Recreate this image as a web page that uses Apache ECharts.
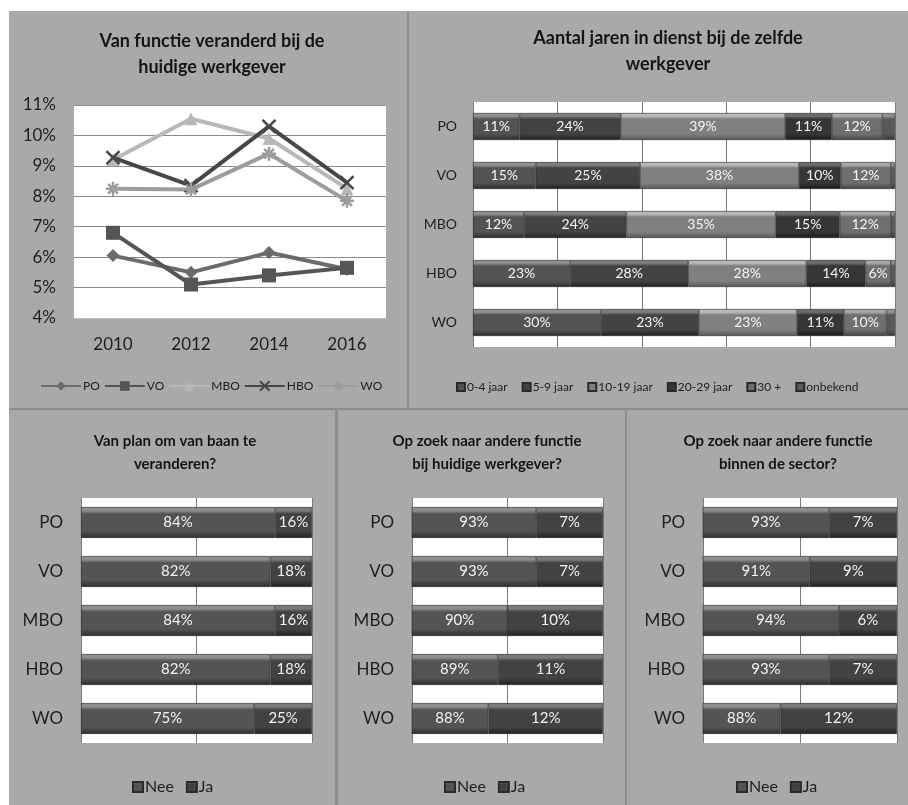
<!DOCTYPE html>
<html><head><meta charset="utf-8">
<script src="https://cdn.jsdelivr.net/npm/echarts@6/dist/echarts.min.js"></script>
<style>html,body{margin:0;padding:0;background:#fff;}#c{position:absolute;left:9px;top:11px;width:899px;height:794px;}</style>
</head><body><div id="c"></div>
<script>
// ---- data ----
const years = ['2010', '2012', '2014', '2016'];
const linePO  = [6.05, 5.5, 6.15, 5.6];
const lineVO  = [6.8, 5.1, 5.4, 5.65];
const lineMBO = [9.2, 10.55, 9.9, 8.25];
const lineHBO = [9.27, 8.35, 10.3, 8.45];
const lineWO  = [8.25, 8.22, 9.4, 7.85];

const sectors = ['PO', 'VO', 'MBO', 'HBO', 'WO'];
const tenureNames = ['0-4 jaar', '5-9 jaar', '10-19 jaar', '20-29 jaar', '30 +', 'onbekend'];
const tenure0_4   = [11, 15, 12, 23, 30];
const tenure5_9   = [24, 25, 24, 28, 23];
const tenure10_19 = [39, 38, 35, 28, 23];
const tenure20_29 = [11, 10, 15, 14, 11];
const tenure30    = [12, 12, 12, 6, 10];
const tenureUnk   = [3, 1, 1, 1, 2];

const planNee = [84, 82, 84, 82, 75];
const planJa  = [16, 18, 16, 18, 25];
const zoekWerkgeverNee = [93, 93, 90, 89, 88];
const zoekWerkgeverJa  = [7, 7, 10, 11, 12];
const zoekSectorNee = [93, 91, 94, 93, 88];
const zoekSectorJa  = [7, 9, 6, 7, 12];

const titles = [
  'Van functie veranderd bij de\nhuidige werkgever',
  'Aantal jaren in dienst bij de zelfde\nwerkgever',
  'Van plan om van baan te\nveranderen?',
  'Op zoek naar andere functie\nbij huidige werkgever?',
  'Op zoek naar andere functie\nbinnen de sector?'
];

// ---- styling ----
const FONT = 'Lato, "Open Sans", sans-serif';
const TXT = '#1e1e1e';
function bevel(base, light, dark) {
  return new echarts.graphic.LinearGradient(0, 0, 0, 1, [
    {offset: 0, color: light}, {offset: 0.12, color: light}, {offset: 0.22, color: base},
    {offset: 0.78, color: base}, {offset: 1, color: dark}]);
}
const tenureColors = [
  ['#535353', '#909090', '#2a2a2a'],
  ['#434343', '#7e7e7e', '#202020'],
  ['#808080', '#b8b8b8', '#575757'],
  ['#363636', '#6c6c6c', '#1a1a1a'],
  ['#6f6f6f', '#a8a8a8', '#444444'],
  ['#5a5a5a', '#929292', '#333333']
];
const neeCol = ['#545454', '#8e8e8e', '#2c2c2c'];
const jaCol  = ['#424242', '#7a7a7a', '#202020'];

const chart = echarts.init(document.getElementById('c'));

const grids = [
  {left: 65, top: 94, width: 312, height: 213},
  {left: 464, top: 91, width: 422, height: 245},
  {left: 72, top: 487, width: 231, height: 245},
  {left: 403, top: 487, width: 191, height: 245},
  {left: 694, top: 487, width: 194, height: 245}
].map(g => Object.assign(g, {show: true, backgroundColor: '#ffffff', borderWidth: 0, containLabel: false}));

const titleDefs = [
  {cx: 198, top: 12, size: 18, lh: 26},
  {cx: 654, top: 9, size: 18, lh: 26},
  {cx: 161, top: 414, size: 15, lh: 23},
  {cx: 473, top: 414, size: 15, lh: 23},
  {cx: 764, top: 414, size: 15, lh: 23}
];

const splitCol = '#7a7a7a';

const xAxes = [
  {gridIndex: 0, type: 'category', data: years, boundaryGap: true,
   axisLine: {show: true, lineStyle: {color: '#bdbdbd'}}, axisTick: {show: false},
   axisLabel: {color: TXT, fontSize: 17, fontFamily: FONT, margin: 18}},
  {gridIndex: 1, type: 'value', min: 0, max: 100, interval: 20,
   axisLabel: {show: false}, axisLine: {show: false}, axisTick: {show: false},
   splitLine: {lineStyle: {color: splitCol}}},
  {gridIndex: 2, type: 'value', min: 0, max: 100, interval: 50,
   axisLabel: {show: false}, axisLine: {show: false}, axisTick: {show: false},
   splitLine: {lineStyle: {color: splitCol}}},
  {gridIndex: 3, type: 'value', min: 80, max: 100, interval: 10,
   axisLabel: {show: false}, axisLine: {show: false}, axisTick: {show: false},
   splitLine: {lineStyle: {color: splitCol}}},
  {gridIndex: 4, type: 'value', min: 80, max: 100, interval: 10,
   axisLabel: {show: false}, axisLine: {show: false}, axisTick: {show: false},
   splitLine: {lineStyle: {color: splitCol}}}
];
const catAxis = (gi, fs, margin) => ({gridIndex: gi, type: 'category', data: sectors, inverse: true,
  axisLine: {show: false}, axisTick: {show: false},
  axisLabel: {color: TXT, fontSize: fs, fontFamily: FONT, margin: margin}});
const yAxes = [
  {gridIndex: 0, type: 'value', min: 4, max: 11, interval: 1,
   axisLine: {show: false}, axisTick: {show: false},
   axisLabel: {color: TXT, fontSize: 17, fontFamily: FONT, margin: 18, formatter: '{value}%'},
   splitLine: {lineStyle: {color: '#8a8a8a', width: 1}}},
  catAxis(1, 14, 16), catAxis(2, 17, 18), catAxis(3, 17, 18), catAxis(4, 17, 18)
];

// line series
const lineDefs = [
  {name: 'PO', data: linePO, color: '#6b6b6b', symbol: 'diamond', size: 13},
  {name: 'VO', data: lineVO, color: '#555555', symbol: 'rect', size: 14},
  {name: 'MBO', data: lineMBO, color: '#b8b8b8', symbol: 'triangle', size: 13},
  {name: 'HBO', data: lineHBO, color: '#474747', symbol: 'path://M0,0L10,10M10,0L0,10', size: 13},
  {name: 'WO', data: lineWO, color: '#9c9c9c', symbol: 'path://M5,0L5,10M0,5L10,5M1.5,1.5L8.5,8.5M8.5,1.5L1.5,8.5', size: 14}
];
const series = [];
lineDefs.forEach(d => {
  series.push({type: 'line', name: d.name, xAxisIndex: 0, yAxisIndex: 0, data: d.data,
    symbol: d.symbol, symbolSize: d.size,
    lineStyle: {color: d.color, width: 4},
    itemStyle: {color: d.color, borderColor: d.color, borderWidth: d.symbol.startsWith('path') ? 2.5 : 0},
    emphasis: {disabled: true}});
});

// 100% stacked tenure bars
const tenureArrays = [tenure0_4, tenure5_9, tenure10_19, tenure20_29, tenure30, tenureUnk];
const rowTotals = sectors.map((_, i) => tenureArrays.reduce((s, a) => s + a[i], 0));
tenureArrays.forEach((arr, k) => {
  const c = tenureColors[k];
  series.push({type: 'bar', name: tenureNames[k], xAxisIndex: 1, yAxisIndex: 1, stack: 'tenure',
    barWidth: '55%',
    data: arr.map((v, i) => ({value: v / rowTotals[i] * 100, raw: v})),
    itemStyle: {color: bevel(c[0], c[1], c[2]), borderColor: '#2a2a2a', borderWidth: 0.6},
    label: {show: k < 5, position: 'inside', color: '#f6f6f6', fontSize: 14, fontFamily: FONT,
      formatter: p => p.data.raw + '%'},
    emphasis: {disabled: true}});
});

// Nee / Ja bars
const yn = [[planNee, planJa], [zoekWerkgeverNee, zoekWerkgeverJa], [zoekSectorNee, zoekSectorJa]];
yn.forEach((pair, j) => {
  ['Nee', 'Ja'].forEach((nm, k) => {
    const c = k === 0 ? neeCol : jaCol;
    series.push({type: 'bar', name: nm, xAxisIndex: j + 2, yAxisIndex: j + 2, stack: 'yn' + j,
      barWidth: '63%', data: pair[k],
      itemStyle: {color: bevel(c[0], c[1], c[2]), borderColor: '#2a2a2a', borderWidth: 0.6},
      label: {show: true, position: 'inside', color: '#f2f2f2', fontSize: 15, fontFamily: FONT,
        formatter: '{c}%'},
      emphasis: {disabled: true}});
  });
});

const legends = [
  {left: 26, top: 364, itemWidth: 40, itemHeight: 12, itemGap: 4,
   data: lineDefs.map(d => d.name), textStyle: {fontSize: 12, color: TXT, fontFamily: FONT, padding: [0, 0, 0, -3]}},
  {left: 442, top: 365, itemWidth: 8, itemHeight: 8, itemGap: 14, icon: 'rect',
   data: tenureNames, textStyle: {fontSize: 12, color: TXT, fontFamily: FONT, padding: [0, 0, 0, -3]}},
  {left: 118, top: 763, itemWidth: 10, itemHeight: 10, itemGap: 12, icon: 'rect',
   data: ['Nee', 'Ja'], textStyle: {fontSize: 16, color: TXT, fontFamily: FONT, padding: [0, 0, 0, -3]}},
  {left: 430, top: 763, itemWidth: 10, itemHeight: 10, itemGap: 12, icon: 'rect',
   data: ['Nee', 'Ja'], textStyle: {fontSize: 16, color: TXT, fontFamily: FONT, padding: [0, 0, 0, -3]}},
  {left: 722, top: 763, itemWidth: 10, itemHeight: 10, itemGap: 12, icon: 'rect',
   data: ['Nee', 'Ja'], textStyle: {fontSize: 16, color: TXT, fontFamily: FONT, padding: [0, 0, 0, -3]}}
].map(l => Object.assign(l, {selectedMode: false}));

const sep = '#8d8d8d';
chart.setOption({
  animation: false,
  backgroundColor: '#a9a9a9',
  title: titles.map((t, i) => ({text: t, left: titleDefs[i].cx, top: titleDefs[i].top, textAlign: 'center',
    textStyle: {fontSize: titleDefs[i].size, fontWeight: 'bold', color: '#151515', fontFamily: FONT,
      lineHeight: titleDefs[i].lh}})),
  grid: grids,
  xAxis: xAxes,
  yAxis: yAxes,
  legend: legends,
  series: series,
  graphic: [
    {type: 'rect', shape: {x: 398, y: 0, width: 2, height: 398}, style: {fill: sep}, silent: true},
    {type: 'rect', shape: {x: 0, y: 397, width: 899, height: 2}, style: {fill: sep}, silent: true},
    {type: 'rect', shape: {x: 326, y: 399, width: 3, height: 395}, style: {fill: sep}, silent: true},
    {type: 'rect', shape: {x: 616, y: 399, width: 2, height: 395}, style: {fill: sep}, silent: true}
  ]
});
</script></body></html>
